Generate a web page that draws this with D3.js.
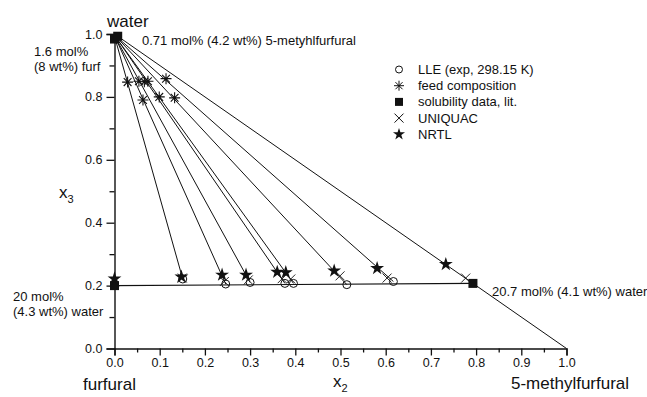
<!DOCTYPE html>
<html lang="en">
<head>
  <meta charset="utf-8">
  <title>LLE water / furfural / 5-methylfurfural</title>
  <style>
    html,body { margin:0; padding:0; background:#fff; }
    svg { display:block; }
    text { font-family: "Liberation Sans", Arial, sans-serif; fill:#111; }
  </style>
  <script src="https://d3js.org/d3.v7.min.js"></script>
</head>
<body>
<svg width="647" height="397"></svg>
<script>
// tie lines: water-rich end and organic-rich end (x2 = 5-MF, x3 = water)
const aqX2  = [0.001, 0.002, 0.002, 0.003, 0.003, 0.004, 0.005];
const aqX3  = [0.988, 0.989, 0.989, 0.990, 0.990, 0.991, 0.991];
const orgX2 = [0.151, 0.246, 0.300, 0.377, 0.396, 0.514, 0.617];
const orgX3 = [0.221, 0.205, 0.210, 0.207, 0.207, 0.203, 0.213];

// feed compositions
const feedX2 = [0.029, 0.054, 0.066, 0.074, 0.114, 0.063, 0.099, 0.133];
const feedX3 = [0.847, 0.850, 0.848, 0.850, 0.858, 0.790, 0.800, 0.797];

// literature solubility
const solX2 = [0.000, 0.0071, 0.000, 0.793];
const solX3 = [0.984, 0.9929, 0.200, 0.207];

// model predictions, organic phase
const uniX2 = [0.000, 0.150, 0.243, 0.296, 0.371, 0.390, 0.499, 0.603, 0.777];
const uniX3 = [0.212, 0.224, 0.213, 0.218, 0.222, 0.221, 0.231, 0.224, 0.224];
const nrtlX2 = [0.000, 0.148, 0.238, 0.291, 0.360, 0.379, 0.486, 0.581, 0.733];
const nrtlX3 = [0.222, 0.228, 0.234, 0.234, 0.243, 0.242, 0.247, 0.255, 0.268];

const xTicks = d3.range(0, 1.0001, 0.1);
const yTicks = d3.range(0, 1.0001, 0.2);

const svg = d3.select("svg");
const x = d3.scaleLinear().domain([0, 1]).range([114.5, 566.5]);
const y = d3.scaleLinear().domain([0, 1]).range([348.5, 34]);

// axes
const xAxis = d3.axisBottom(x).tickValues(xTicks).tickFormat(d3.format(".1f")).tickSize(7).tickPadding(3);
svg.append("g").attr("transform", `translate(0,${y(0)})`).call(xAxis);
const xMinor = d3.axisBottom(x).tickValues(d3.range(0.05, 1, 0.1)).tickFormat("").tickSize(4);
svg.append("g").attr("transform", `translate(0,${y(0)})`).call(xMinor).select(".domain").remove();

const yAxis = d3.axisLeft(y).tickValues(yTicks).tickFormat(d3.format(".1f")).tickSize(8).tickPadding(4);
svg.append("g").attr("transform", `translate(${x(0)},0)`).call(yAxis);
const yMinor = d3.axisLeft(y).tickValues(d3.range(0.1, 1, 0.2)).tickFormat("").tickSize(5);
svg.append("g").attr("transform", `translate(${x(0)},0)`).call(yMinor).select(".domain").remove();

svg.selectAll(".domain").attr("stroke", "#111").attr("stroke-width", 1.4);
svg.selectAll(".tick line").attr("stroke", "#111").attr("stroke-width", 1.3);
svg.selectAll(".tick text").attr("font-size", 12.5).attr("fill", "#111");

// triangle hypotenuse and organic-phase boundary
const line = d3.line().x(d => x(d[0])).y(d => y(d[1]));
svg.append("path").attr("d", line([[0, 1], [1, 0]]))
  .attr("fill", "none").attr("stroke", "#111").attr("stroke-width", 1);
svg.append("path").attr("d", line([[solX2[2], solX3[2]], [solX2[3], solX3[3]]]))
  .attr("fill", "none").attr("stroke", "#111").attr("stroke-width", 1.2);

// tie lines
svg.append("g").selectAll("path").data(orgX2).join("path")
  .attr("d", (d, i) => line([[aqX2[i], aqX3[i]], [orgX2[i], orgX3[i]]]))
  .attr("fill", "none").attr("stroke", "#111").attr("stroke-width", 1);

const pts = (a, b) => a.map((v, i) => [v, b[i]]);

// asterisk path
const ast = r => {
  let p = "";
  for (let k = 0; k < 4; k++) {
    const a = k * Math.PI / 4;
    const dx = r * Math.cos(a), dy = r * Math.sin(a);
    p += `M${-dx},${-dy}L${dx},${dy}`;
  }
  return p;
};
const cross = r => `M${-r},${-r}L${r},${r}M${-r},${r}L${r},${-r}`;

svg.append("g").selectAll("circle").data(pts(orgX2, orgX3)).join("circle")
  .attr("cx", d => x(d[0])).attr("cy", d => y(d[1])).attr("r", 4)
  .attr("fill", "none").attr("stroke", "#111").attr("stroke-width", 1);

svg.append("g").selectAll("path").data(pts(feedX2, feedX3)).join("path")
  .attr("d", ast(5.5)).attr("transform", d => `translate(${x(d[0])},${y(d[1])})`)
  .attr("stroke", "#111").attr("stroke-width", 1.1).attr("fill", "none");

svg.append("g").selectAll("rect").data(pts(solX2, solX3)).join("rect")
  .attr("x", d => x(d[0]) - 4.5).attr("y", d => y(d[1]) - 4.5)
  .attr("width", 9).attr("height", 9).attr("fill", "#111");

svg.append("g").selectAll("path").data(pts(uniX2, uniX3)).join("path")
  .attr("d", cross(4.5)).attr("transform", d => `translate(${x(d[0])},${y(d[1])})`)
  .attr("stroke", "#111").attr("stroke-width", 0.9).attr("fill", "none");

svg.append("g").selectAll("path").data(pts(nrtlX2, nrtlX3)).join("path")
  .attr("d", d3.symbol().type(d3.symbolStar).size(60))
  .attr("transform", d => `translate(${x(d[0])},${y(d[1])})`)
  .attr("fill", "#111");

// legend
const legendItems = ["LLE (exp, 298.15 K)", "feed composition", "solubility data, lit.", "UNIQUAC", "NRTL"];
const lg = svg.append("g").attr("transform", "translate(399,69.5)");
legendItems.forEach((t, i) => {
  const g = lg.append("g").attr("transform", `translate(0,${i * 16.2})`);
  if (i === 0) g.append("circle").attr("r", 3.5).attr("fill", "none").attr("stroke", "#111");
  if (i === 1) g.append("path").attr("d", ast(5)).attr("stroke", "#111").attr("fill", "none");
  if (i === 2) g.append("rect").attr("x", -4).attr("y", -4).attr("width", 8).attr("height", 8).attr("fill", "#111");
  if (i === 3) g.append("path").attr("d", cross(4.5)).attr("stroke", "#111").attr("fill", "none");
  if (i === 4) g.append("path").attr("d", d3.symbol().type(d3.symbolStar).size(45)).attr("fill", "#111");
  g.append("text").attr("x", 19).attr("y", 4.5).attr("font-size", 13).text(t);
});

// labels
const label = (tx, ty, t, size, anchor) =>
  svg.append("text").attr("x", tx).attr("y", ty).attr("font-size", size)
    .attr("text-anchor", anchor || "start").text(t);

label(107, 27, "water", 17);
label(83, 390, "furfural", 17);
label(511, 389, "5-methylfurfural", 17);
label(142, 45, "0.71 mol% (4.2 wt%) 5-metyhlfurfural", 13);
label(34, 56, "1.6 mol%", 13);
label(34, 71, "(8 wt%) furf", 13);
label(13, 301, "20 mol%", 13);
label(13, 316, "(4.3 wt%) water", 13);
label(492, 296, "20.7 mol% (4.1 wt%) water", 13);

const yl = svg.append("text").attr("x", 59).attr("y", 198).attr("font-size", 17);
yl.append("tspan").text("x");
yl.append("tspan").attr("font-size", 11).attr("dy", 5).text("3");
const xl = svg.append("text").attr("x", 333).attr("y", 387).attr("font-size", 17);
xl.append("tspan").text("x");
xl.append("tspan").attr("font-size", 11).attr("dy", 5).text("2");
</script>
</body>
</html>
